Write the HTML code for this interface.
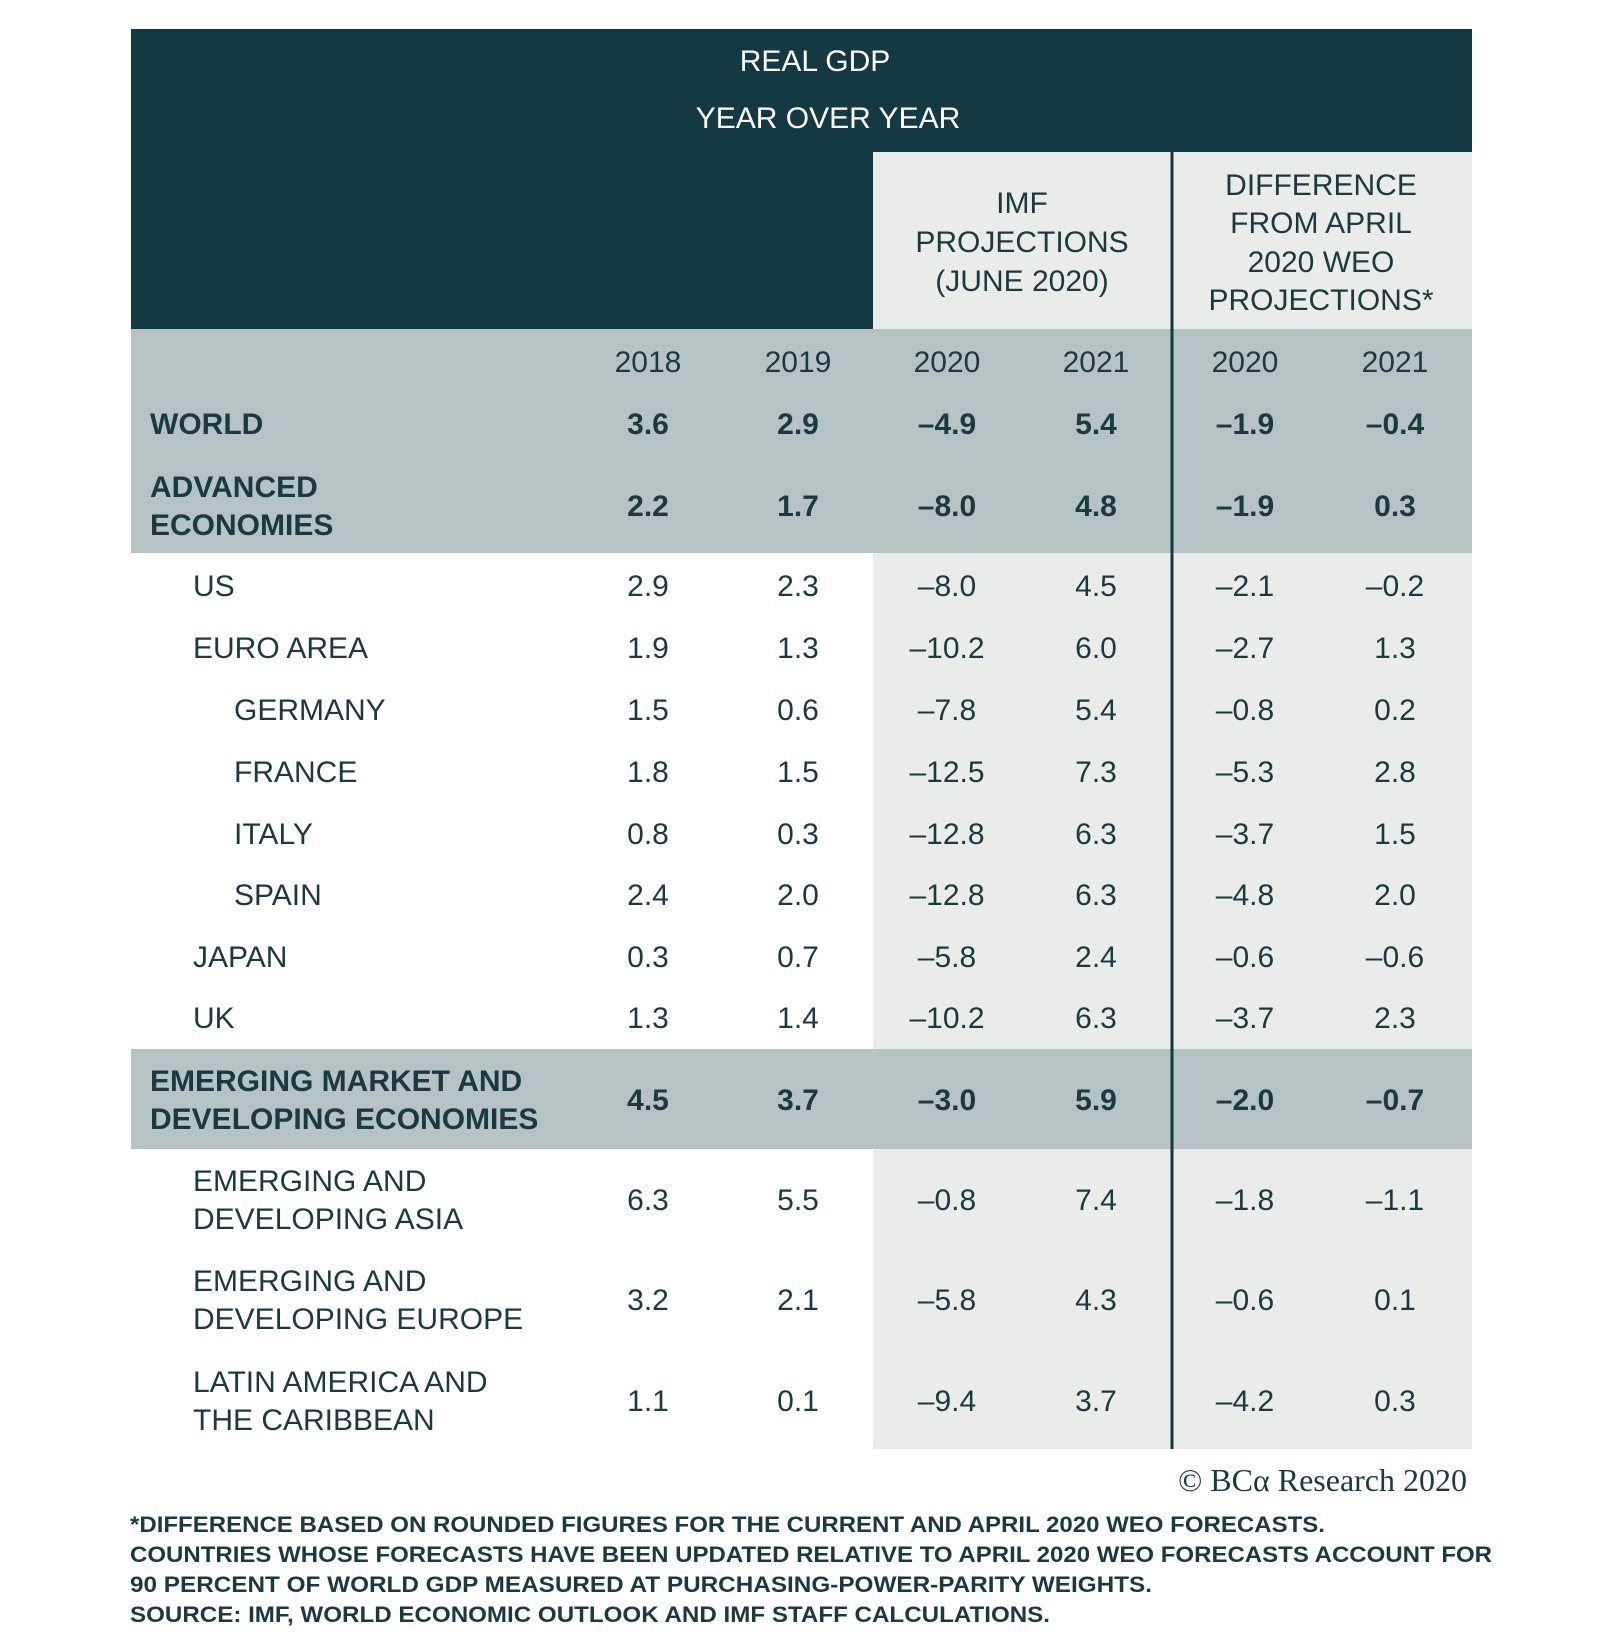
<!DOCTYPE html>
<html><head><meta charset="utf-8"><style>
html,body{margin:0;padding:0;background:#fff;}
svg{display:block;font-family:"Liberation Sans",Arial,sans-serif;}
</style></head><body>
<svg id="chart" width="1600" height="1651" viewBox="0 0 1600 1651" xmlns="http://www.w3.org/2000/svg">
<rect x="0" y="0" width="1600" height="1651" fill="#ffffff"/>
<rect x="131" y="29" width="1341" height="300" fill="#133a42"/>
<rect x="873" y="152" width="299" height="177" fill="#e9ece8"/>
<rect x="1172" y="152" width="300" height="177" fill="#e9ece8"/>
<rect x="131" y="329" width="1341" height="224" fill="#b5c3c5"/>
<rect x="873" y="553" width="599" height="496" fill="#e9ece8"/>
<rect x="131" y="1049" width="1341" height="100" fill="#b5c3c5"/>
<rect x="873" y="1149" width="599" height="300" fill="#e9ece8"/>
<line x1="1172" y1="152" x2="1172" y2="1449" stroke="#133a42" stroke-width="3"/>
<g fill="#ffffff" font-size="30" text-anchor="middle">
<text x="815" y="71">REAL GDP</text>
<text x="828" y="128">YEAR OVER YEAR</text>
</g>
<g fill="#1a3a40" font-size="30" text-anchor="middle">
<text x="1022" y="213">IMF</text>
<text x="1022" y="252">PROJECTIONS</text>
<text x="1022" y="291">(JUNE 2020)</text>
<text x="1321" y="195">DIFFERENCE</text>
<text x="1321" y="233">FROM APRIL</text>
<text x="1321" y="272">2020 WEO</text>
<text x="1321" y="310">PROJECTIONS*</text>
</g>
<g id="body"></g>
<text x="1467" y="1491" text-anchor="end" font-family="'Liberation Serif',serif" font-size="32" fill="#1a3a40">© BCα Research 2020</text>
<g fill="#1a3a40" font-size="22" font-weight="bold">
<text x="130" y="1532" textLength="1195" lengthAdjust="spacingAndGlyphs">*DIFFERENCE BASED ON ROUNDED FIGURES FOR THE CURRENT AND APRIL 2020 WEO FORECASTS.</text>
<text x="130" y="1562" textLength="1362" lengthAdjust="spacingAndGlyphs">COUNTRIES WHOSE FORECASTS HAVE BEEN UPDATED RELATIVE TO APRIL 2020 WEO FORECASTS ACCOUNT FOR</text>
<text x="130" y="1592" textLength="1022" lengthAdjust="spacingAndGlyphs">90 PERCENT OF WORLD GDP MEASURED AT PURCHASING-POWER-PARITY WEIGHTS.</text>
<text x="130" y="1622" textLength="920" lengthAdjust="spacingAndGlyphs">SOURCE: IMF, WORLD ECONOMIC OUTLOOK AND IMF STAFF CALCULATIONS.</text>
</g>
</svg>
<script>
const years = ["2018","2019","2020","2021","2020","2021"];
const rowLabels = [["WORLD"],["ADVANCED","ECONOMIES"],["US"],["EURO AREA"],["GERMANY"],["FRANCE"],["ITALY"],["SPAIN"],["JAPAN"],["UK"],["EMERGING MARKET AND","DEVELOPING ECONOMIES"],["EMERGING AND","DEVELOPING ASIA"],["EMERGING AND","DEVELOPING EUROPE"],["LATIN AMERICA AND","THE CARIBBEAN"]];
const rowLevel = [0,0,1,1,2,2,2,2,1,1,0,1,1,1];
const v2018 = [3.6,2.2,2.9,1.9,1.5,1.8,0.8,2.4,0.3,1.3,4.5,6.3,3.2,1.1];
const v2019 = [2.9,1.7,2.3,1.3,0.6,1.5,0.3,2.0,0.7,1.4,3.7,5.5,2.1,0.1];
const p2020 = [-4.9,-8.0,-8.0,-10.2,-7.8,-12.5,-12.8,-12.8,-5.8,-10.2,-3.0,-0.8,-5.8,-9.4];
const p2021 = [5.4,4.8,4.5,6.0,5.4,7.3,6.3,6.3,2.4,6.3,5.9,7.4,4.3,3.7];
const d2020 = [-1.9,-1.9,-2.1,-2.7,-0.8,-5.3,-3.7,-4.8,-0.6,-3.7,-2.0,-1.8,-0.6,-4.2];
const d2021 = [-0.4,0.3,-0.2,1.3,0.2,2.8,1.5,2.0,-0.6,2.3,-0.7,-1.1,0.1,0.3];
const series = [v2018,v2019,p2020,p2021,d2020,d2021];
const colX = [648,798,947,1096,1245,1395];
const rowY = [423,505,585,647,709,771,833,894,956,1017,1099,1199,1299,1400];
const indentX = [150,193,234];
const NS="http://www.w3.org/2000/svg";
const g=document.getElementById('body');
function fmt(v){return (v<0?"\u2013":"")+Math.abs(v).toFixed(1);}
function txt(x,y,s,anchor,bold,name){
  const t=document.createElementNS(NS,'text');
  t.setAttribute('x',x);t.setAttribute('y',y);
  t.setAttribute('text-anchor',anchor);
  t.setAttribute('font-size','30');
  t.setAttribute('fill','#1a3a40');
  if(bold)t.setAttribute('font-weight','bold');
  t.textContent=s;
  
  
  g.appendChild(t);return t;
}
years.forEach((y,i)=>{ txt(colX[i],372,y,'middle',false,'year-header'); });
rowLabels.forEach((lines,r)=>{
  const bold = rowLevel[r]===0;
  const cy=rowY[r];
  const n=lines.length;
  lines.forEach((ln,k)=>{
    const y=cy+11+(k-(n-1)/2)*38;
    txt(indentX[rowLevel[r]],y,ln,'start',bold,'row-label');
  });
  series.forEach((s,c)=>{
    txt(colX[c],cy+11,fmt(s[r]),'middle',bold,'value-cell');
  });
});
</script>
</body></html>
